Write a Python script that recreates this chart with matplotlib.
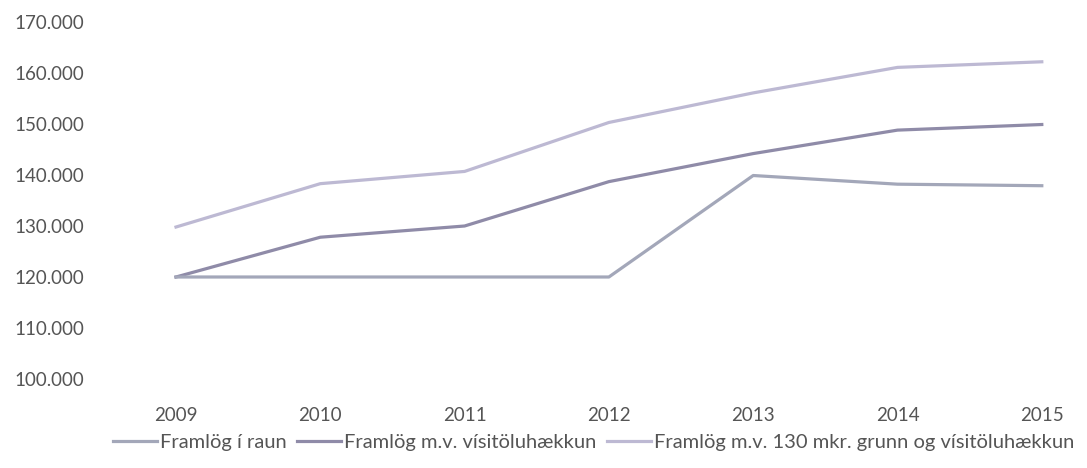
import numpy as np
import matplotlib.pyplot as plt
from matplotlib.ticker import FuncFormatter

years = ['2009', '2010', '2011', '2012', '2013', '2014', '2015']
raun = [120000, 120000, 120000, 120000, 139900, 138200, 137900]
visitala = [120000, 127800, 130000, 138700, 144200, 148800, 149900]
grunnur = [129800, 138300, 140700, 150300, 156100, 161100, 162200]

labels = ['Framlög í raun', 'Framlög m.v. vísitöluhækkun',
          'Framlög m.v. 130 mkr. grunn og vísitöluhækkun']
colors = ['#a3a7b9', '#8f8ba8', '#bdb9d3']

plt.rcParams['font.family'] = ['Lato', 'DejaVu Sans']

fig = plt.figure(figsize=(10.87, 4.68), dpi=100)
ax = fig.add_axes([120 / 1087, 1 - 379 / 468, 1 - 120 / 1087, (379 - 22) / 468])

x = np.arange(len(years))
ax.plot(x, raun, color=colors[0], lw=2.3, label=labels[0], zorder=3)
ax.plot(x, visitala, color=colors[1], lw=2.3, label=labels[1], zorder=2)
ax.plot(x, grunnur, color=colors[2], lw=2.3, label=labels[2], zorder=1)

ax.set_xlim((120 - 176) / 144.3, (1087 - 176) / 144.3)
ax.set_ylim(100000, 170000)
ax.set_yticks(np.arange(100000, 170001, 10000))
ax.yaxis.set_major_formatter(FuncFormatter(lambda v, p: f'{v / 1000:.0f}.000'))
ax.set_xticks(x)
ax.set_xticklabels(years)

for s in ax.spines.values():
    s.set_visible(False)
ax.tick_params(length=0, labelsize=13.5, colors='#555555')
ax.tick_params(axis='y', pad=26)
ax.tick_params(axis='x', pad=20)

leg = ax.legend(loc='upper center', bbox_to_anchor=(0.49, -0.13), ncol=3, frameon=False,
                fontsize=14.5, handlelength=2.2, handletextpad=0.15, columnspacing=0.5,
                borderaxespad=0)
for t in leg.get_texts():
    t.set_color('#555555')

fig.savefig('out.png', dpi=100)
